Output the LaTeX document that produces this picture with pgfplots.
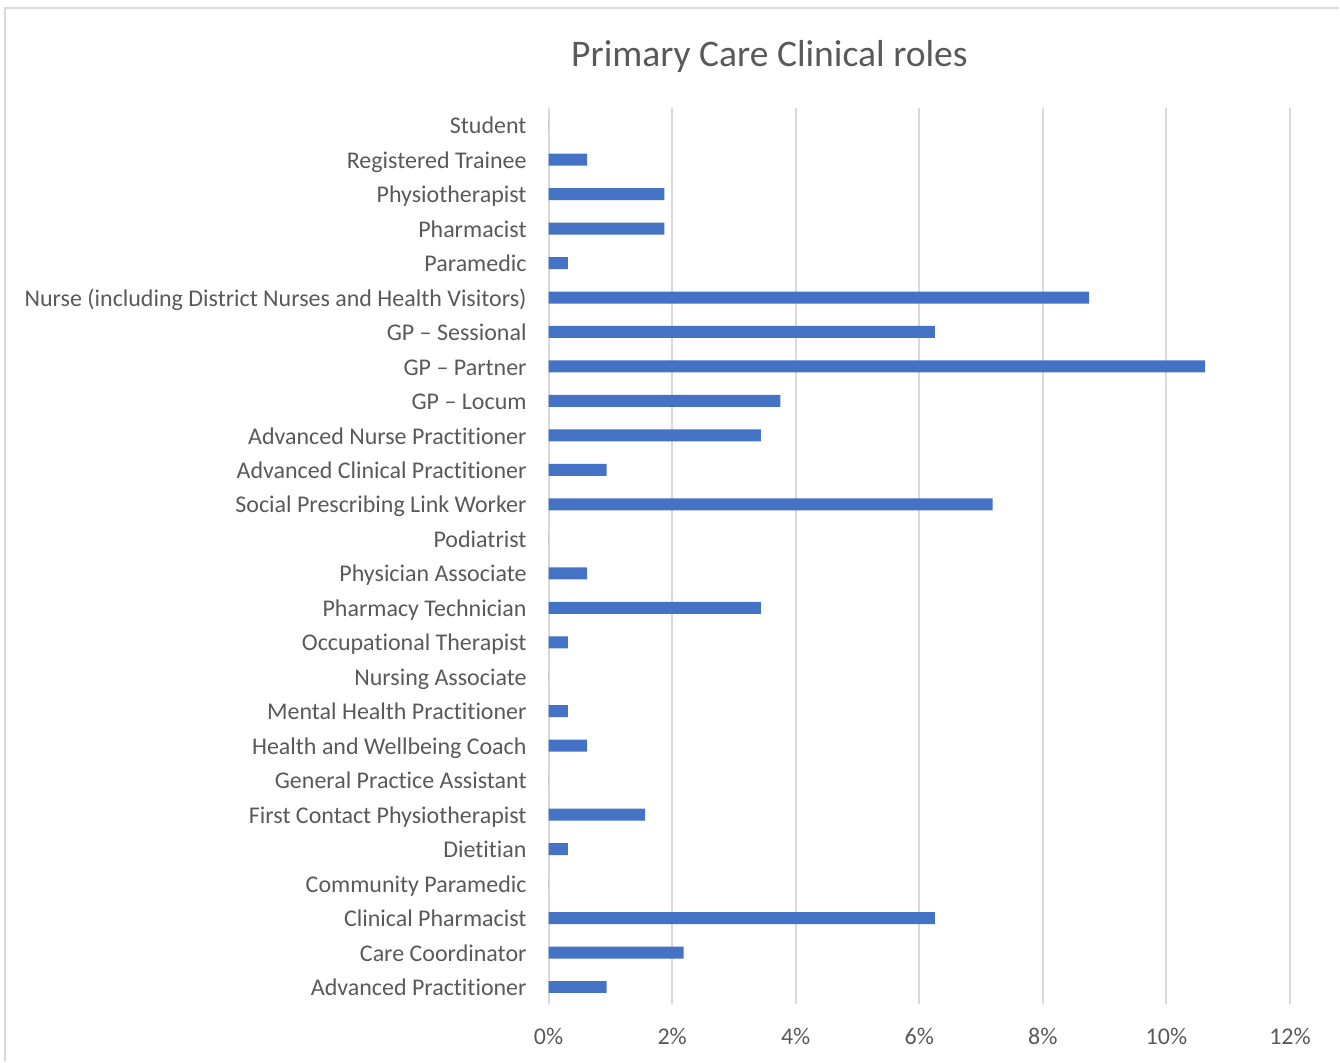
\documentclass[border=0pt]{standalone}
\usepackage{fontspec}
\setmainfont{Carlito}[Ligatures={TeX,NoCommon}]
\usepackage{pgfplots}
\pgfplotsset{compat=1.18}
\definecolor{barblue}{HTML}{4472C4}
\definecolor{txtgray}{HTML}{595959}
\definecolor{gridgray}{HTML}{D9D9D9}

\pgfplotstableread{
idx val
0  0.9375
1  2.1875
2  6.25
3  0
4  0.3125
5  1.5625
6  0
7  0.625
8  0.3125
9  0
10 0.3125
11 3.4375
12 0.625
13 0
14 7.1875
15 0.9375
16 3.4375
17 3.75
18 10.625
19 6.25
20 8.75
21 0.3125
22 1.875
23 1.875
24 0.625
25 0
}\roles

\begin{document}
\begin{tikzpicture}
% page = 1340 x 1062 px, 1px = 0.5pt
\path (0pt,0pt) rectangle (670pt,531pt);
\draw[gridgray, line width=1pt] (2.5pt,0pt) -- (2.5pt,527pt) -- (670pt,527pt);
\node[txtgray, font=\fontsize{18.8}{22}\selectfont] at (385pt,502.5pt) {Primary Care Clinical roles};
\begin{axis}[
  at={(274.5pt,28.5pt)}, anchor=south west,
  scale only axis,
  width=371pt, height=448.5pt,
  xbar, bar width=6pt,
  xmin=0, xmax=12,
  ymin=-0.5, ymax=25.5,
  xtick={0,2,...,12},
  ytick={0,...,25},
  yticklabels={Advanced Practitioner, Care Coordinator, Clinical Pharmacist,
    Community Paramedic, Dietitian, First Contact Physiotherapist,
    General Practice Assistant, Health and Wellbeing Coach,
    Mental Health Practitioner, Nursing Associate, Occupational Therapist,
    Pharmacy Technician, Physician Associate, Podiatrist,
    Social Prescribing Link Worker, Advanced Clinical Practitioner,
    Advanced Nurse Practitioner, GP – Locum, GP – Partner, GP – Sessional,
    Nurse (including District Nurses and Health Visitors), Paramedic,
    Pharmacist, Physiotherapist, Registered Trainee, Student},
  typeset ticklabels with strut,
  xticklabel={\pgfmathprintnumber{\tick}\%},
  /pgf/number format/assume math mode=true,
  axis line style={draw=none},
  major tick length=0pt,
  xmajorgrids,
  grid style={gridgray, line width=1pt},
  tick label style={txtgray, font=\fontsize{12}{14}\selectfont},
  yticklabel style={xshift=-7.5pt, yshift=-1.5pt},
  xticklabel style={yshift=-8.5pt},
]
\addplot[fill=barblue, draw=none] table[x=val, y=idx] {\roles};
\end{axis}
\end{tikzpicture}
\end{document}
